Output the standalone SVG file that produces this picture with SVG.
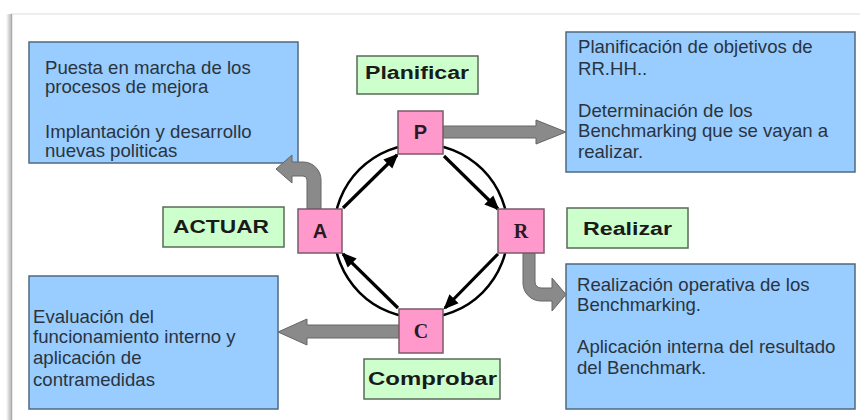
<svg xmlns="http://www.w3.org/2000/svg" width="860" height="420" viewBox="0 0 860 420">
<style>
.info rect{fill:#99ccff;stroke:#4f6a80;stroke-width:1.5}
.info text{font-family:"Liberation Sans",Arial,sans-serif;font-size:18.6px;fill:#2a3440}
.lbl rect{fill:#ccffcc;stroke:#5a6a5a;stroke-width:1.5}
.lbl text{font-family:"Liberation Sans",Arial,sans-serif;font-size:18px;font-weight:bold;fill:#1a1a1a;text-anchor:middle}
.sq rect{fill:#ff99cc;stroke:#7a5a6a;stroke-width:1.5}
.sq text{font-size:20px;font-weight:bold;fill:#2a1a22;text-anchor:middle}
.sans{font-family:"Liberation Sans",Arial,sans-serif}
.serif{font-family:"Liberation Serif","Times New Roman",serif}
.blk{stroke:#000;stroke-width:3.2;fill:none;marker-end:url(#ah)}
.gray{fill:#8a8a8a;stroke:#666;stroke-width:1}
</style>
<defs>
<marker id="ah" viewBox="0 0 14 12" refX="12" refY="6" markerWidth="15" markerHeight="13" markerUnits="userSpaceOnUse" orient="auto">
<path d="M0,0 L14,6 L0,12 Z" fill="#000"/>
</marker>
<linearGradient id="sh" x1="0" x2="1" y1="0" y2="0">
<stop offset="0" stop-color="#ffffff"/>
<stop offset="1" stop-color="#b8b8b8"/>
</linearGradient>
</defs>
<rect x="0" y="0" width="860" height="420" fill="#ffffff"/>
<rect x="6" y="14" width="5" height="406" fill="url(#sh)"/>
<rect x="11" y="14" width="860" height="420" fill="#ffffff" stroke="#dedede" stroke-width="1"/>
<line x1="11.5" y1="14" x2="11.5" y2="420" stroke="#aaaaaa" stroke-width="1.5"/>

<g id="box-actuar-info" class="info">
<rect x="29" y="42" width="269" height="121"/>
<text x="45" y="74">Puesta en marcha de los</text>
<text x="45" y="93">procesos de mejora</text>
<text x="45" y="138">Implantación y desarrollo</text>
<text x="45" y="157">nuevas politicas</text>
</g>
<g id="box-planificar-info" class="info">
<rect x="566" y="32" width="289" height="140"/>
<text x="578" y="53">Planificación de objetivos de</text>
<text x="578" y="75">RR.HH..</text>
<text x="578" y="117">Determinación de los</text>
<text x="578" y="137">Benchmarking que se vayan a</text>
<text x="578" y="158">realizar.</text>
</g>
<g id="box-comprobar-info" class="info">
<rect x="29" y="276" width="249" height="133"/>
<text x="33" y="323">Evaluación del</text>
<text x="33" y="343">funcionamiento interno y</text>
<text x="33" y="364">aplicación de</text>
<text x="33" y="386">contramedidas</text>
</g>
<g id="box-realizar-info" class="info">
<rect x="566" y="264" width="289" height="145"/>
<text x="577" y="291">Realización operativa de los</text>
<text x="577" y="311">Benchmarking.</text>
<text x="577" y="353">Aplicación interna del resultado</text>
<text x="577" y="374">del Benchmark.</text>
</g>

<g id="lbl-planificar" class="lbl">
<rect x="357" y="56" width="121" height="38"/>
<text x="417" y="79" textLength="104" lengthAdjust="spacingAndGlyphs">Planificar</text>
</g>
<g id="lbl-actuar" class="lbl">
<rect x="163" y="207" width="121" height="40"/>
<text x="221" y="233" textLength="96" lengthAdjust="spacingAndGlyphs">ACTUAR</text>
</g>
<g id="lbl-realizar" class="lbl">
<rect x="567" y="208" width="121" height="40"/>
<text x="627.5" y="235" textLength="89" lengthAdjust="spacingAndGlyphs">Realizar</text>
</g>
<g id="lbl-comprobar" class="lbl">
<rect x="364" y="359" width="136" height="40"/>
<text x="432.5" y="385" textLength="129" lengthAdjust="spacingAndGlyphs">Comprobar</text>
</g>

<g id="connectors">
<circle cx="421" cy="231" r="87" fill="none" stroke="#000" stroke-width="2.5"/>
<path class="gray" d="M443,126 L536,126 L536,120 L566,132 L536,144 L536,138 L443,138 Z"/>
<path class="gray" d="M399,325 L307,325 L307,319 L278,332 L307,345 L307,338 L399,338 Z"/>
<path class="gray" d="M307,209 L307,180 A4,4 0 0 0 303,176 L292,176 L292,183 L276,169 L292,155 L292,162 L303,162 A18,18 0 0 1 321,180 L321,209 Z"/>
<path class="gray" d="M523,253 L523,283 A18,18 0 0 0 541,301 L552,301 L552,311 L566,294.5 L552,278 L552,288 L541,288 A6,6 0 0 1 535,282 L535,253 Z"/>
<line class="blk" x1="343" y1="208" x2="397" y2="155"/>
<line class="blk" x1="444" y1="156" x2="498" y2="209"/>
<line class="blk" x1="498" y1="254" x2="445" y2="308"/>
<line class="blk" x1="398" y1="308" x2="343" y2="254"/>
</g>

<g id="node-P" class="sq">
<rect x="398" y="111" width="45" height="43"/>
<text class="sans" x="420.5" y="139">P</text>
</g>
<g id="node-A" class="sq">
<rect x="298" y="209" width="44" height="44"/>
<text class="sans" x="320" y="238">A</text>
</g>
<g id="node-R" class="sq">
<rect x="498" y="209" width="46" height="44"/>
<text class="serif" x="521" y="238">R</text>
</g>
<g id="node-C" class="sq">
<rect x="399" y="309" width="44" height="44"/>
<text class="serif" x="421" y="338">C</text>
</g>
</svg>
